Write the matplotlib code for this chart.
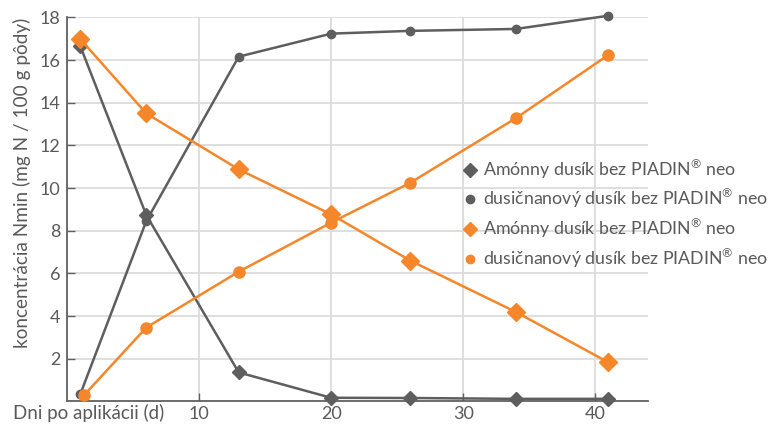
import matplotlib.pyplot as plt
from matplotlib.lines import Line2D

# data
days_amon = [1.0, 6.0, 13.0, 20.0, 26.0, 34.0, 41.0]
days_nitr = [1.0, 6.0, 13.0, 20.0, 26.0, 34.0, 41.0]
days_amon_neo = [1.0, 6.0, 13.0, 20.0, 26.0, 34.0, 41.0]
days_nitr_neo = [1.3, 6.0, 13.0, 20.0, 26.0, 34.0, 41.0]

amon_gray = [16.66, 8.74, 1.36, 0.17, 0.16, 0.12, 0.12]
nitr_gray = [0.33, 8.45, 16.16, 17.24, 17.37, 17.46, 18.08]
amon_orange = [16.99, 13.5, 10.88, 8.77, 6.6, 4.19, 1.83]
nitr_orange = [0.3, 3.46, 6.08, 8.38, 10.25, 13.28, 16.24]

reg = r'$^{\mathregular{®}}$'
labels = ["Amónny dusík bez PIADIN" + reg + " neo",
          "dusičnanový dusík bez PIADIN" + reg + " neo",
          "Amónny dusík bez PIADIN" + reg + " neo",
          "dusičnanový dusík bez PIADIN" + reg + " neo"]
xticks = [10, 20, 30, 40]
yticks = [2, 4, 6, 8, 10, 12, 14, 16, 18]

gray = '#5e5e5e'
orange = '#f5862a'
txt = '#5a5a5a'

plt.rcParams['font.family'] = ['Lato', 'DejaVu Sans']
plt.rcParams['mathtext.fontset'] = 'custom'
plt.rcParams['mathtext.rm'] = 'Lato'

fig = plt.figure(figsize=(7.74, 4.25), dpi=100)
ax = fig.add_axes([0.0866, 0.0555, 0.7506, 0.9035])

# gray series
ax.plot(days_amon, amon_gray, color=gray, lw=1.8, marker='D', ms=7, zorder=3, clip_on=False)
ax.plot(days_nitr, nitr_gray, color=gray, lw=1.8, marker='o', ms=6, zorder=3, clip_on=False)
# orange series
ax.plot(days_amon_neo, amon_orange, color=orange, lw=1.8, marker='D', ms=9, zorder=4, clip_on=False)
ax.plot(days_nitr_neo, nitr_orange, color=orange, lw=1.8, marker='o', ms=8, zorder=4, clip_on=False)

ax.set_xlim(0, 44)
ax.set_ylim(0, 18)
ax.set_xticks(xticks)
ax.set_yticks(yticks)
ax.grid(True, color='#dcdcdc', lw=1.3, zorder=0)
ax.set_axisbelow(True)
for s in ['top', 'right']:
    ax.spines[s].set_visible(False)
for s in ['left', 'bottom']:
    ax.spines[s].set_color('#606060')
    ax.spines[s].set_linewidth(1.3)
ax.tick_params(direction='in', length=6, width=1, color='#606060',
               labelsize=13, labelcolor=txt, pad=5)
ax.tick_params(axis='x', pad=3)

ax.set_ylabel('koncentrácia Nmin (mg N / 100 g pôdy)', fontsize=13.7, color=txt, labelpad=4)
ax.yaxis.set_label_coords(-0.062, 0.57)
fig.text(13 / 774, 1 - 413 / 425, 'Dni po aplikácii (d)', fontsize=13.5, color=txt,
         va='center', ha='left')

handles = [Line2D([], [], ls='none', marker='D', ms=7, color=gray),
           Line2D([], [], ls='none', marker='o', ms=6, color=gray),
           Line2D([], [], ls='none', marker='D', ms=7, color=orange),
           Line2D([], [], ls='none', marker='o', ms=6, color=orange)]
leg = fig.legend(handles, labels, loc='upper left', bbox_to_anchor=(465 / 774, 1 - 157 / 425),
                 frameon=False, fontsize=12.8, handlelength=0.6, handletextpad=0.4,
                 labelspacing=0.33, borderaxespad=0, borderpad=0)
for t in leg.get_texts():
    t.set_color(txt)

fig.savefig('out.png', dpi=100)
